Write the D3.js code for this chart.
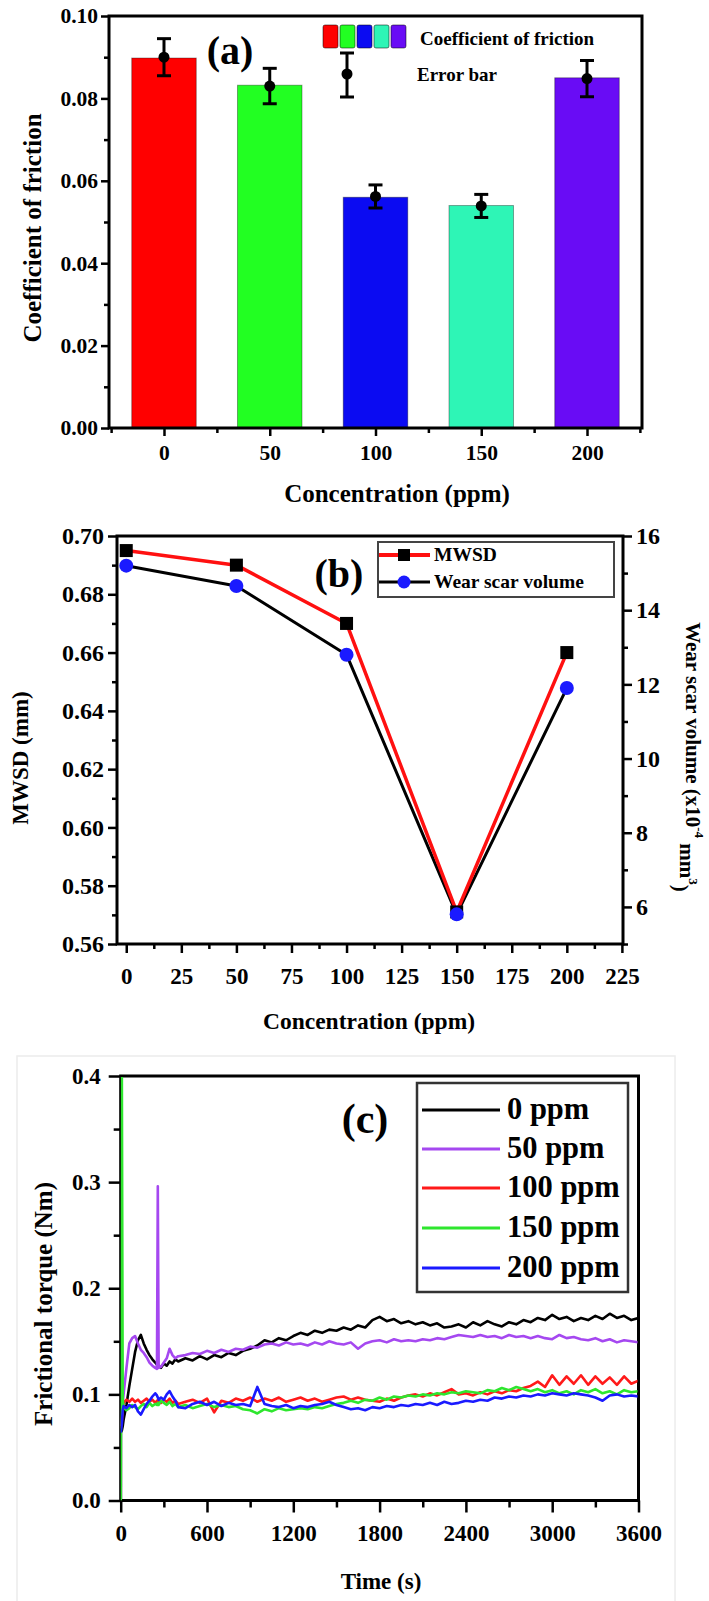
<!DOCTYPE html>
<html><head><meta charset="utf-8">
<script src="https://cdn.jsdelivr.net/npm/d3@7"></script>
<style>
body{margin:0;background:#fff;}
</style></head><body>
<svg id="chart" width="709" height="1601"></svg>
<script>
// ---------- Panel (a) data ----------
const catLabelsA = ["0", "50", "100", "150", "200"];
const cofMean = [0.0898, 0.0832, 0.0560, 0.0540, 0.0850];
const cofDot  = [0.0900, 0.0830, 0.0562, 0.0539, 0.0848];
const cofErr  = [0.0045, 0.0043, 0.0028, 0.0028, 0.0044];
const yTicksA = [0, 0.02, 0.04, 0.06, 0.08, 0.10];

// ---------- Panel (b) data ----------
const concB = [0, 50, 100, 150, 200];
const mwsd = [0.695, 0.690, 0.670, 0.571, 0.660];
const wearVol = [15.2, 14.65, 12.8, 5.8, 11.9];
const xTicksB = [0, 25, 50, 75, 100, 125, 150, 175, 200, 225];
const yTicksB = [0.56, 0.58, 0.60, 0.62, 0.64, 0.66, 0.68, 0.70];
const y2TicksB = [6, 8, 10, 12, 14, 16];

// ---------- Panel (c) data ----------
const seriesNamesC = ["0 ppm", "50 ppm", "100 ppm", "150 ppm", "200 ppm"];
const timeS = [0,8,14,20,40,60,80,100,120,140,160,180,200,220,240,252,258,264,280,300,320,340,360,380,400,
450,500,550,600,650,700,750,800,
850,900,950,1000,1050,1100,1150,1200,
1250,1300,1350,1400,1450,1500,1550,1600,
1650,1700,1750,1800,1850,1900,1950,2000,
2050,2100,2150,2200,2250,2300,2350,2400,
2450,2500,2550,2600,2650,2700,2750,2800,
2850,2900,2950,3000,3050,3100,3150,3200,
3250,3300,3350,3400,3450,3500,3550,3600];
const torque0 = [0.064,0.066,0.070,0.076,0.090,0.108,0.124,0.140,0.151,0.156,0.148,0.142,0.137,0.133,0.130,0.128,0.126,0.127,0.125,0.129,0.127,0.131,0.129,0.133,0.131,
0.134,0.132,0.136,0.133,0.137,0.135,0.139,0.137,
0.141,0.143,0.146,0.151,0.149,0.153,0.151,0.155,
0.158,0.156,0.160,0.158,0.161,0.160,0.163,0.161,
0.165,0.163,0.170,0.173,0.169,0.171,0.167,0.169,
0.166,0.168,0.165,0.167,0.163,0.164,0.166,0.163,
0.168,0.165,0.169,0.166,0.164,0.168,0.166,0.170,
0.168,0.172,0.170,0.175,0.171,0.173,0.169,0.172,
0.170,0.174,0.171,0.176,0.172,0.174,0.170,0.172];
const torque50 = [0.070,0.080,0.092,0.100,0.125,0.148,0.153,0.155,0.148,0.142,0.139,0.135,0.130,0.127,0.125,0.124,0.296,0.125,0.126,0.130,0.134,0.143,0.137,0.134,0.136,
0.137,0.139,0.138,0.141,0.139,0.142,0.140,0.143,
0.142,0.145,0.144,0.147,0.148,0.146,0.149,0.147,
0.148,0.146,0.149,0.147,0.150,0.148,0.147,0.149,
0.143,0.148,0.150,0.151,0.149,0.152,0.150,0.151,
0.150,0.152,0.151,0.153,0.152,0.154,0.156,0.155,
0.154,0.156,0.154,0.155,0.153,0.156,0.154,0.155,
0.153,0.155,0.153,0.152,0.156,0.153,0.154,0.152,
0.151,0.153,0.150,0.152,0.149,0.151,0.150,0.149];
const torque100 = [0.068,0.075,0.085,0.092,0.095,0.093,0.096,0.093,0.095,0.092,0.094,0.096,0.093,0.095,0.092,0.094,0.093,0.095,0.092,0.095,0.093,0.096,0.092,0.094,0.091,
0.093,0.095,0.092,0.096,0.083,0.094,0.092,0.096,
0.094,0.097,0.093,0.096,0.094,0.097,0.093,0.095,
0.097,0.094,0.096,0.093,0.095,0.097,0.098,0.095,
0.097,0.095,0.094,0.093,0.096,0.094,0.097,0.099,
0.100,0.098,0.101,0.099,0.102,0.105,0.100,0.101,
0.099,0.102,0.100,0.103,0.101,0.104,0.103,0.106,
0.108,0.112,0.107,0.118,0.109,0.117,0.110,0.118,
0.109,0.117,0.110,0.116,0.109,0.117,0.110,0.113];
const torque150 = [0.000,0.400,0.095,0.088,0.085,0.087,0.090,0.088,0.086,0.089,0.091,0.088,0.092,0.089,0.091,0.090,0.092,0.090,0.094,0.092,0.090,0.093,0.089,0.091,0.088,
0.090,0.087,0.089,0.091,0.088,0.090,0.088,0.089,
0.086,0.085,0.082,0.086,0.084,0.087,0.085,0.086,
0.087,0.086,0.088,0.087,0.089,0.091,0.092,0.094,
0.092,0.095,0.094,0.097,0.095,0.098,0.097,0.099,
0.098,0.100,0.099,0.101,0.100,0.102,0.101,0.103,
0.102,0.101,0.104,0.103,0.106,0.104,0.107,0.105,
0.103,0.105,0.102,0.104,0.101,0.103,0.100,0.104,
0.102,0.105,0.101,0.103,0.100,0.104,0.102,0.103];
const torque200 = [0.064,0.072,0.085,0.089,0.087,0.090,0.088,0.090,0.084,0.081,0.086,0.091,0.094,0.098,0.101,0.099,0.097,0.095,0.097,0.095,0.100,0.103,0.098,0.094,0.088,
0.087,0.091,0.093,0.090,0.093,0.089,0.092,0.090,
0.091,0.089,0.107,0.091,0.089,0.088,0.090,0.087,
0.089,0.088,0.090,0.091,0.093,0.090,0.088,0.086,
0.087,0.085,0.088,0.087,0.089,0.088,0.090,0.089,
0.091,0.090,0.092,0.090,0.093,0.091,0.092,0.094,
0.093,0.095,0.094,0.097,0.096,0.098,0.097,0.099,
0.098,0.100,0.099,0.101,0.100,0.099,0.101,0.100,
0.099,0.097,0.094,0.099,0.100,0.098,0.099,0.098];
const xTicksC = [0, 600, 1200, 1800, 2400, 3000, 3600];
const yTicksC = [0, 0.1, 0.2, 0.3, 0.4];

// ---------- styles ----------
const FONT = '"Liberation Serif","Times New Roman",serif';
const barColors = ["#ff0000", "#22ff22", "#0b0bf2", "#2ef5b6", "#690cf5"];
const lineColorsC = ["#000000", "#a548f0", "#ff1a1a", "#2ee62e", "#1a1aff"];

const svg = d3.select("#chart");

function styleAxis(g, fs) {
  g.attr("font-family", FONT).attr("font-size", fs).attr("font-weight", "bold");
  g.select(".domain").remove();
  g.selectAll(".tick line").attr("stroke", "#000").attr("stroke-width", 2.5);
  g.selectAll(".tick text").attr("fill", "#000");
  return g;
}
function addText(g, x, y, str, fs, anchor, rotate) {
  const t = g.append("text")
    .attr("font-family", FONT).attr("font-weight", "bold").attr("font-size", fs)
    .attr("text-anchor", anchor || "middle").attr("dy", "0.35em").attr("fill", "#000");
  if (rotate) t.attr("transform", `translate(${x},${y}) rotate(${rotate})`);
  else t.attr("x", x).attr("y", y);
  t.text(str);
  return t;
}
function frame(g, P) {
  g.append("rect").attr("x", P.l).attr("y", P.t).attr("width", P.r - P.l).attr("height", P.b - P.t)
    .attr("stroke", "#000").attr("stroke-width", 3).attr("fill", "none");
}

// =================== Panel (a) ===================
{
  const A = {l: 109, r: 642, t: 16, b: 428};
  const xA = d3.scaleLinear().domain([-0.52, 4.52]).range([A.l, A.r]);
  const yA = d3.scaleLinear().domain([0, 0.10]).range([A.b, A.t]);
  const g = svg.append("g");
  const bw = (xA(1) - xA(0)) * 0.61;

  g.selectAll("rect.bar").data(cofMean).join("rect").attr("class", "bar")
    .attr("x", (d, i) => xA(i) - bw / 2).attr("y", d => yA(d))
    .attr("width", bw).attr("height", d => yA(0) - yA(d))
    .attr("fill", (d, i) => barColors[i])
    .attr("stroke", "rgba(0,0,0,0.35)").attr("stroke-width", 1);

  const eb = g.selectAll("g.eb").data(cofDot).join("g").attr("class", "eb");
  eb.append("line").attr("x1", (d, i) => xA(i)).attr("x2", (d, i) => xA(i))
    .attr("y1", (d, i) => yA(d + cofErr[i])).attr("y2", (d, i) => yA(d - cofErr[i]))
    .attr("stroke", "#000").attr("stroke-width", 3);
  eb.append("line").attr("x1", (d, i) => xA(i) - 7).attr("x2", (d, i) => xA(i) + 7)
    .attr("y1", (d, i) => yA(d + cofErr[i])).attr("y2", (d, i) => yA(d + cofErr[i]))
    .attr("stroke", "#000").attr("stroke-width", 3);
  eb.append("line").attr("x1", (d, i) => xA(i) - 7).attr("x2", (d, i) => xA(i) + 7)
    .attr("y1", (d, i) => yA(d - cofErr[i])).attr("y2", (d, i) => yA(d - cofErr[i]))
    .attr("stroke", "#000").attr("stroke-width", 3);
  eb.append("circle").attr("cx", (d, i) => xA(i)).attr("cy", d => yA(d)).attr("r", 5.5).attr("fill", "#000");

  styleAxis(g.append("g").attr("transform", `translate(${A.l},0)`)
    .call(d3.axisLeft(yA).tickValues(yTicksA).tickFormat(d3.format(".2f")).tickSize(8).tickPadding(3)), 21.5);
  styleAxis(g.append("g").attr("transform", `translate(${A.l},0)`)
    .call(d3.axisLeft(yA).tickValues([0.01, 0.03, 0.05, 0.07, 0.09]).tickFormat("").tickSize(5)), 21);
  styleAxis(g.append("g").attr("transform", `translate(0,${A.b})`)
    .call(d3.axisBottom(xA).tickValues(d3.range(catLabelsA.length)).tickFormat(i => catLabelsA[i]).tickSize(8).tickPadding(9)), 21.5);
  styleAxis(g.append("g").attr("transform", `translate(0,${A.b})`)
    .call(d3.axisBottom(xA).tickValues([-0.5, 0.5, 1.5, 2.5, 3.5, 4.5]).tickFormat("").tickSize(5)), 21);
  frame(g, A);

  addText(g, 397, 493, "Concentration (ppm)", 25);
  addText(g, 32, 228, "Coefficient of friction", 25, "middle", -90);
  addText(g, 230, 50, "(a)", 40);

  barColors.forEach((c, i) => {
    g.append("rect").attr("x", 323 + i * 17).attr("y", 25).attr("width", 15).attr("height", 23)
      .attr("rx", 2).attr("fill", c).attr("stroke", "rgba(0,0,0,0.5)").attr("stroke-width", 1);
  });
  addText(g, 420, 38, "Coefficient of friction", 19, "start");
  g.append("line").attr("x1", 347).attr("x2", 347).attr("y1", 53).attr("y2", 97).attr("stroke", "#000").attr("stroke-width", 3);
  g.append("line").attr("x1", 340).attr("x2", 354).attr("y1", 53).attr("y2", 53).attr("stroke", "#000").attr("stroke-width", 3);
  g.append("line").attr("x1", 340).attr("x2", 354).attr("y1", 97).attr("y2", 97).attr("stroke", "#000").attr("stroke-width", 3);
  g.append("circle").attr("cx", 347).attr("cy", 74).attr("r", 5.5).attr("fill", "#000");
  addText(g, 417, 74, "Error bar", 19, "start");
}

// =================== Panel (b) ===================
{
  const B = {l: 117, r: 623, t: 536, b: 944};
  const xB = d3.scaleLinear().domain([-4.2, 225.5]).range([B.l, B.r]);
  const yB = d3.scaleLinear().domain([0.56, 0.70]).range([B.b, B.t]);
  const yB2 = d3.scaleLinear().domain([5, 16]).range([B.b, B.t]);
  const g = svg.append("g");

  styleAxis(g.append("g").attr("transform", `translate(${B.l},0)`)
    .call(d3.axisLeft(yB).tickValues(yTicksB).tickFormat(d3.format(".2f")).tickSize(9).tickPadding(4)), 24);
  styleAxis(g.append("g").attr("transform", `translate(${B.l},0)`)
    .call(d3.axisLeft(yB).tickValues([0.57, 0.59, 0.61, 0.63, 0.65, 0.67, 0.69]).tickFormat("").tickSize(5)), 23);
  styleAxis(g.append("g").attr("transform", `translate(${B.r},0)`)
    .call(d3.axisRight(yB2).tickValues(y2TicksB).tickFormat(d3.format("d")).tickSize(9).tickPadding(4)), 24);
  styleAxis(g.append("g").attr("transform", `translate(${B.r},0)`)
    .call(d3.axisRight(yB2).tickValues([5, 7, 9, 11, 13, 15]).tickFormat("").tickSize(5)), 23);
  styleAxis(g.append("g").attr("transform", `translate(0,${B.b})`)
    .call(d3.axisBottom(xB).tickValues(xTicksB).tickFormat(d3.format("d")).tickSize(9).tickPadding(15)), 23);
  styleAxis(g.append("g").attr("transform", `translate(0,${B.b})`)
    .call(d3.axisBottom(xB).tickValues(d3.range(12.5, 225, 25)).tickFormat("").tickSize(5)), 23);
  frame(g, B);

  const lineM = d3.line().x((d, i) => xB(concB[i])).y(d => yB(d));
  const lineW = d3.line().x((d, i) => xB(concB[i])).y(d => yB2(d));
  g.append("path").attr("d", lineW(wearVol)).attr("stroke", "#000").attr("stroke-width", 3).attr("fill", "none").attr("stroke-linejoin", "round");
  g.append("path").attr("d", lineM(mwsd)).attr("stroke", "#ff1010").attr("stroke-width", 3.5).attr("fill", "none").attr("stroke-linejoin", "round");
  g.selectAll("rect.sq").data(mwsd).join("rect").attr("class", "sq")
    .attr("x", (d, i) => xB(concB[i]) - 6.5).attr("y", d => yB(d) - 6.5)
    .attr("width", 13).attr("height", 13).attr("fill", "#000");
  g.selectAll("circle.ci").data(wearVol).join("circle").attr("class", "ci")
    .attr("cx", (d, i) => xB(concB[i])).attr("cy", d => yB2(d)).attr("r", 7).attr("fill", "#1a1aff");

  addText(g, 369, 1021, "Concentration (ppm)", 23.5);
  addText(g, 20, 758, "MWSD (mm)", 23, "middle", -90);
  const rt = g.append("text").attr("font-family", FONT).attr("font-weight", "bold").attr("font-size", 21)
    .attr("text-anchor", "middle").attr("dy", "0.35em").attr("transform", "translate(693,757) rotate(90)");
  rt.append("tspan").text("Wear scar volume (x10");
  rt.append("tspan").attr("font-size", 13).attr("dy", "-0.75em").text("-4");
  rt.append("tspan").attr("dy", "0.75em").text(" mm");
  rt.append("tspan").attr("font-size", 13).attr("dy", "-0.75em").text("3");
  rt.append("tspan").attr("dy", "0.75em").text(")");

  addText(g, 339, 573, "(b)", 40);

  g.append("rect").attr("x", 378).attr("y", 542).attr("width", 236).attr("height", 55)
    .attr("fill", "#fff").attr("stroke", "#444").attr("stroke-width", 2);
  g.append("line").attr("x1", 379).attr("x2", 430).attr("y1", 555).attr("y2", 555).attr("stroke", "#ff1010").attr("stroke-width", 4);
  g.append("rect").attr("x", 398).attr("y", 549).attr("width", 12).attr("height", 12).attr("fill", "#000");
  addText(g, 434, 554, "MWSD", 19.5, "start");
  g.append("line").attr("x1", 379).attr("x2", 430).attr("y1", 582).attr("y2", 582).attr("stroke", "#000").attr("stroke-width", 3);
  g.append("circle").attr("cx", 404).attr("cy", 582).attr("r", 6.5).attr("fill", "#1a1aff");
  addText(g, 434, 581, "Wear scar volume", 19.5, "start");
}

// =================== Panel (c) ===================
{
  const C = {l: 120.7, r: 638.5, t: 1076, b: 1500.5};
  const xC = d3.scaleLinear().domain([0, 3600]).range([C.l, C.r]);
  const yC = d3.scaleLinear().domain([0, 0.4]).range([C.b, C.t]);
  const g = svg.append("g");

  g.append("rect").attr("x", 17).attr("y", 1056).attr("width", 658).attr("height", 560)
    .attr("fill", "none").attr("stroke", "#ececec").attr("stroke-width", 1.5);

  styleAxis(g.append("g").attr("transform", `translate(${C.l},0)`)
    .call(d3.axisLeft(yC).tickValues(yTicksC).tickFormat(d3.format(".1f")).tickSize(12).tickPadding(8)), 23);
  styleAxis(g.append("g").attr("transform", `translate(${C.l},0)`)
    .call(d3.axisLeft(yC).tickValues([0.05, 0.15, 0.25, 0.35]).tickFormat("").tickSize(7)), 23);
  styleAxis(g.append("g").attr("transform", `translate(0,${C.b})`)
    .call(d3.axisBottom(xC).tickValues(xTicksC).tickFormat(d3.format("d")).tickSize(12).tickPadding(12)), 23);
  styleAxis(g.append("g").attr("transform", `translate(0,${C.b})`)
    .call(d3.axisBottom(xC).tickValues(d3.range(300, 3600, 600)).tickFormat("").tickSize(7)), 23);
  frame(g, C);

  svg.append("defs").append("clipPath").attr("id", "clipC").append("rect")
    .attr("x", C.l).attr("y", C.t + 1).attr("width", C.r - C.l - 1).attr("height", C.b - C.t - 1);
  const series = [torque0, torque50, torque100, torque150, torque200];
  const line = d3.line().x((d, i) => xC(timeS[i])).y(d => yC(d));
  const lg = g.append("g").attr("clip-path", "url(#clipC)");
  series.forEach((s, k) => {
    lg.append("path").attr("d", line(s)).attr("stroke", lineColorsC[k]).attr("stroke-width", 2.6)
      .attr("fill", "none").attr("stroke-linejoin", "round");
  });

  addText(g, 381, 1581, "Time (s)", 23);
  addText(g, 43, 1304, "Frictional torque (Nm)", 25, "middle", -90);
  addText(g, 365, 1118, "(c)", 42);

  g.append("rect").attr("x", 417).attr("y", 1083).attr("width", 211).attr("height", 209)
    .attr("fill", "#fff").attr("stroke", "#333").attr("stroke-width", 2.5);
  const rowsY = [1110, 1149, 1188, 1228, 1268];
  seriesNamesC.forEach((name, k) => {
    g.append("line").attr("x1", 422).attr("x2", 500).attr("y1", rowsY[k]).attr("y2", rowsY[k])
      .attr("stroke", lineColorsC[k]).attr("stroke-width", 3);
    addText(g, 507, rowsY[k] - 2, name, 30.5, "start");
  });
}
</script></body></html>
